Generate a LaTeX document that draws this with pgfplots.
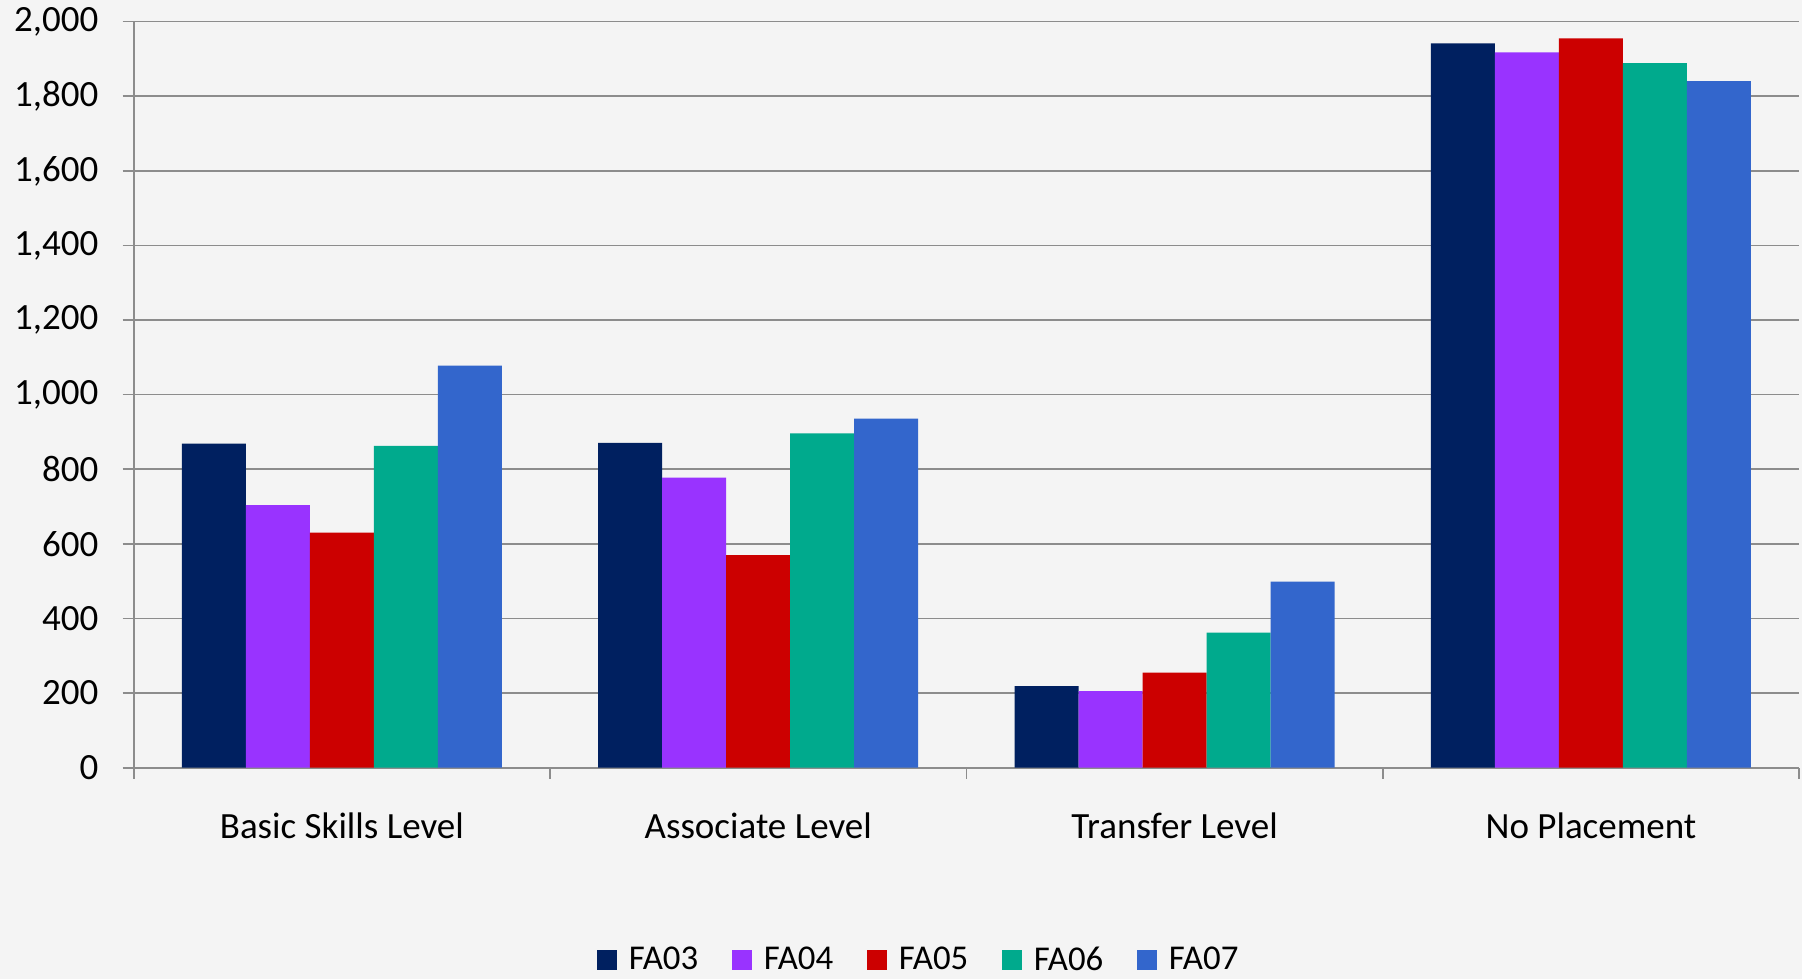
\documentclass[border=0pt]{standalone}
\usepackage{fontspec}
\setmainfont{Carlito}
\usepackage{pgfplots}
\pgfplotsset{compat=1.18}

\definecolor{bgcol}{HTML}{F4F4F4}
\definecolor{gridcol}{HTML}{8C8C8C}
\definecolor{cFAa}{HTML}{002060}
\definecolor{cFAb}{HTML}{9933FF}
\definecolor{cFAc}{HTML}{CC0000}
\definecolor{cFAd}{HTML}{00AA8D}
\definecolor{cFAe}{HTML}{3366CC}

\begin{document}
\begin{tikzpicture}
  % page frame: 1802 x 979 px at 0.5pt per px, axis origin at (133.7px, 767.7px)
  \fill[bgcol, use as bounding box] (-66.85pt,-105.65pt) rectangle (834.15pt,383.85pt);
  \begin{axis}[
    scale only axis,
    width=832.7pt, height=373pt,
    ybar=0pt, bar width=32pt,
    xmin=-0.5, xmax=3.5,
    ymin=0, ymax=2000,
    ytick distance=200,
    xtick={-0.5,0.5,1.5,2.5,3.5},
    xticklabels={},
    extra x ticks={0,1,2,3},
    extra x tick labels={Basic Skills Level, Associate Level, Transfer Level, No Placement},
    extra x tick style={major tick length=0pt},
    axis lines=left,
    axis line style={-, draw=gridcol, line width=0.8pt},
    tick style={draw=gridcol, line width=0.8pt},
    tick align=outside,
    major tick length=5.5pt,
    ymajorgrids=true,
    grid style={draw=gridcol, line width=0.8pt},
    tick label style={font=\fontsize{18.5}{22}\selectfont},
    xticklabel style={yshift=-19.2pt},
    yticklabel style={xshift=-8.6pt},
    /pgf/number format/assume math mode=true,
    /pgf/number format/1000 sep={,},
    legend columns=-1,
    legend style={at={(0.472,-0.258)}, anchor=center, draw=none, fill=none,
      font=\fontsize{17.4}{20}\selectfont,
      /tikz/every odd column/.append style={column sep=4pt},
      /tikz/every even column/.append style={column sep=15pt}},
    legend image code/.code={\fill[#1] (0pt,-4.9pt) rectangle (9.8pt,4.9pt);},
  ]
    \addplot[fill=cFAa, draw=none] coordinates {(0,869) (1,871) (2,219) (3,1942)};
    \addplot[fill=cFAb, draw=none] coordinates {(0,704) (1,778) (2,205) (3,1918)};
    \addplot[fill=cFAc, draw=none] coordinates {(0,630) (1,570) (2,255) (3,1955)};
    \addplot[fill=cFAd, draw=none] coordinates {(0,863) (1,896) (2,362) (3,1889)};
    \addplot[fill=cFAe, draw=none] coordinates {(0,1078) (1,936) (2,499) (3,1841)};
    \legend{FA03, FA04, FA05, FA06, FA07}
  \end{axis}
\end{tikzpicture}
\end{document}
